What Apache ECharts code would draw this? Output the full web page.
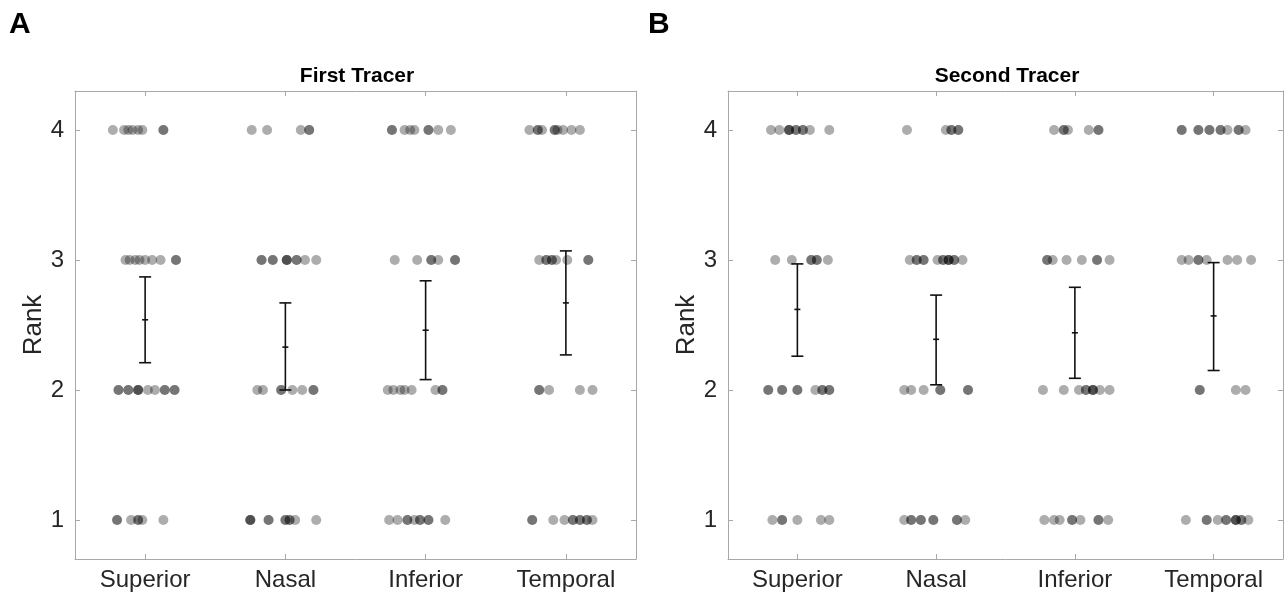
<!DOCTYPE html>
<html>
<head>
<meta charset="utf-8">
<script src="https://cdn.jsdelivr.net/npm/echarts@6/dist/echarts.min.js"></script>
<style>
  html, body { margin: 0; padding: 0; background: #fff; }
</style>
</head>
<body>
<div id="rankChart" style="width: 1285px; height: 601px;"></div>
<script>
const categories = ['Superior', 'Nasal', 'Inferior', 'Temporal']
const rankTicks = [1, 2, 3, 4]

// horizontal jitter of each dot (in category units), keyed by rank
const firstSuperior = {
  4: [-0.23, -0.15, -0.12, -0.09, -0.05, -0.02, 0.13, 0.13],
  3: [-0.14, -0.11, -0.07, -0.04, 0, 0.05, 0.11, 0.22, 0.22],
  2: [-0.19, -0.19, -0.12, -0.12, -0.05, -0.05, -0.05, 0.02, 0.07, 0.14, 0.14, 0.21, 0.21],
  1: [-0.2, -0.2, -0.1, -0.05, -0.05, -0.02, 0.13]
}
const firstNasal = {
  4: [-0.24, -0.13, 0.11, 0.17, 0.17],
  3: [-0.17, -0.17, -0.09, -0.09, 0.01, 0.01, 0.01, 0.08, 0.08, 0.14, 0.22],
  2: [-0.2, -0.16, -0.03, -0.03, 0.05, 0.12, 0.2, 0.2],
  1: [-0.25, -0.25, -0.25, -0.12, -0.12, 0, 0, 0.03, 0.03, 0.07, 0.22]
}
const firstInferior = {
  4: [-0.24, -0.24, -0.15, -0.11, -0.08, 0.02, 0.02, 0.09, 0.18],
  3: [-0.22, -0.06, 0.04, 0.04, 0.09, 0.21, 0.21],
  2: [-0.27, -0.23, -0.18, -0.15, -0.1, 0.07, 0.12, 0.12],
  1: [-0.26, -0.2, -0.13, -0.13, -0.08, -0.04, -0.04, 0.02, 0.02, 0.14]
}
const firstTemporal = {
  4: [-0.26, -0.2, -0.2, -0.17, -0.08, -0.08, -0.06, -0.02, 0.04, 0.1],
  3: [-0.19, -0.14, -0.14, -0.1, -0.1, -0.07, 0.01, 0.16, 0.16],
  2: [-0.19, -0.19, -0.12, 0.1, 0.19],
  1: [-0.24, -0.24, -0.09, -0.01, 0.05, 0.05, 0.1, 0.1, 0.15, 0.15, 0.19]
}

const secondSuperior = {
  4: [-0.19, -0.13, -0.06, -0.06, -0.06, -0.01, -0.01, 0.04, 0.04, 0.09, 0.23],
  3: [-0.16, -0.04, 0.1, 0.1, 0.14, 0.14, 0.22],
  2: [-0.21, -0.21, -0.11, -0.11, 0, 0, 0.13, 0.18, 0.18, 0.23, 0.23],
  1: [-0.18, -0.11, -0.11, 0, 0.17, 0.23]
}
const secondNasal = {
  4: [-0.21, 0.07, 0.11, 0.11, 0.16, 0.16],
  3: [-0.19, -0.14, -0.14, -0.09, -0.09, 0.01, 0.05, 0.05, 0.09, 0.09, 0.09, 0.13, 0.13, 0.19],
  2: [-0.23, -0.18, -0.09, 0.03, 0.03, 0.23, 0.23],
  1: [-0.23, -0.18, -0.18, -0.11, -0.11, -0.02, -0.02, 0.15, 0.15, 0.21]
}
const secondInferior = {
  4: [-0.15, -0.08, -0.08, -0.05, 0.1, 0.17, 0.17],
  3: [-0.2, -0.2, -0.16, -0.06, 0.05, 0.16, 0.16, 0.25],
  2: [-0.23, -0.08, 0.03, 0.08, 0.08, 0.13, 0.13, 0.13, 0.18, 0.25],
  1: [-0.22, -0.15, -0.11, -0.02, -0.02, 0.04, 0.17, 0.17, 0.24]
}
const secondTemporal = {
  4: [-0.23, -0.23, -0.11, -0.11, -0.03, -0.03, 0.05, 0.05, 0.1, 0.18, 0.18, 0.23],
  3: [-0.23, -0.18, -0.11, -0.11, -0.05, 0.1, 0.17, 0.27],
  2: [-0.1, -0.1, 0.16, 0.23],
  1: [-0.2, -0.05, -0.05, 0.03, 0.09, 0.09, 0.16, 0.16, 0.16, 0.2, 0.2, 0.25]
}

// mean and error bar ends per region
const firstMean = [2.54, 2.33, 2.46, 2.67]
const firstLow = [2.21, 2.0, 2.08, 2.27]
const firstHigh = [2.87, 2.67, 2.84, 3.07]
const secondMean = [2.62, 2.39, 2.44, 2.57]
const secondLow = [2.26, 2.04, 2.09, 2.15]
const secondHigh = [2.97, 2.73, 2.79, 2.98]

const FONT = 'Liberation Sans'
const AXIS_COLOR = '#a8a8a8'
const TEXT_COLOR = '#262626'

function dotData(regions) {
  const out = []
  regions.forEach((region, i) => {
    rankTicks.forEach(rank => {
      region[rank].forEach(off => out.push([i + 1 + off, rank]))
    })
  })
  return out
}

function barData(mean, low, high) {
  return mean.map((m, i) => [i + 1, m, low[i], high[i]])
}

function renderErrorBar(params, api) {
  const x = api.value(0)
  const mid = api.coord([x, api.value(1)])
  const lo = api.coord([x, api.value(2)])
  const hi = api.coord([x, api.value(3)])
  const cap = 6
  const style = { stroke: '#111', lineWidth: 1.6 }
  return {
    type: 'group',
    children: [
      { type: 'line', shape: { x1: lo[0], y1: lo[1], x2: hi[0], y2: hi[1] }, style },
      { type: 'line', shape: { x1: lo[0] - cap, y1: lo[1], x2: lo[0] + cap, y2: lo[1] }, style },
      { type: 'line', shape: { x1: hi[0] - cap, y1: hi[1], x2: hi[0] + cap, y2: hi[1] }, style },
      { type: 'line', shape: { x1: mid[0] - 3, y1: mid[1], x2: mid[0] + 3, y2: mid[1] }, style }
    ]
  }
}

function xAxisFor(gridIndex, position) {
  const bottom = position === 'bottom'
  return {
    type: 'value', gridIndex, position, min: 0.5, max: 4.5,
    axisLine: { show: true, onZero: false, lineStyle: { color: AXIS_COLOR } },
    axisTick: { show: true, inside: true, length: 5, customValues: [1, 2, 3, 4], lineStyle: { color: AXIS_COLOR } },
    axisLabel: {
      show: bottom, customValues: [1, 2, 3, 4], margin: 9,
      fontFamily: FONT, fontSize: 24, color: TEXT_COLOR,
      formatter: v => categories[Math.round(v) - 1]
    },
    splitLine: { show: false }
  }
}

function yAxisFor(gridIndex, position) {
  const left = position === 'left'
  return {
    type: 'value', gridIndex, position, min: 0.7, max: 4.3,
    name: left ? 'Rank' : '', nameLocation: 'middle', nameGap: 25,
    nameTextStyle: { fontFamily: FONT, fontSize: 26, color: TEXT_COLOR },
    axisLine: { show: true, onZero: false, lineStyle: { color: AXIS_COLOR } },
    axisTick: { show: true, inside: true, length: 5, customValues: rankTicks, lineStyle: { color: AXIS_COLOR } },
    axisLabel: {
      show: left, customValues: rankTicks, margin: 11,
      fontFamily: FONT, fontSize: 24, color: TEXT_COLOR
    },
    splitLine: { show: false }
  }
}

const chart = echarts.init(document.getElementById('rankChart'))
chart.setOption({
  animation: false,
  backgroundColor: '#fff',
  title: [
    { text: 'First Tracer', left: 352, top: 61, textAlign: 'center',
      textStyle: { fontFamily: FONT, fontSize: 21, fontWeight: 'bold', color: '#000' } },
    { text: 'Second Tracer', left: 1002, top: 61, textAlign: 'center',
      textStyle: { fontFamily: FONT, fontSize: 21, fontWeight: 'bold', color: '#000' } }
  ],
  graphic: [
    { type: 'text', left: 9, top: 10, style: { text: 'A', font: 'bold 30px "Liberation Sans"', fill: '#000' } },
    { type: 'text', left: 648, top: 10, style: { text: 'B', font: 'bold 30px "Liberation Sans"', fill: '#000' } }
  ],
  grid: [
    { left: 75, top: 91, width: 561, height: 468 },
    { left: 728, top: 91, width: 555, height: 468 }
  ],
  xAxis: [xAxisFor(0, 'bottom'), xAxisFor(0, 'top'), xAxisFor(1, 'bottom'), xAxisFor(1, 'top')],
  yAxis: [yAxisFor(0, 'left'), yAxisFor(0, 'right'), yAxisFor(1, 'left'), yAxisFor(1, 'right')],
  series: [
    {
      type: 'scatter', xAxisIndex: 0, yAxisIndex: 0, symbolSize: 10,
      itemStyle: { color: 'rgba(0,0,0,0.4)' },
      data: dotData([firstSuperior, firstNasal, firstInferior, firstTemporal])
    },
    {
      type: 'scatter', xAxisIndex: 2, yAxisIndex: 2, symbolSize: 10,
      itemStyle: { color: 'rgba(0,0,0,0.4)' },
      data: dotData([secondSuperior, secondNasal, secondInferior, secondTemporal])
    },
    {
      type: 'custom', xAxisIndex: 0, yAxisIndex: 0, renderItem: renderErrorBar,
      encode: { x: 0, y: [1, 2, 3] }, z: 5,
      data: barData(firstMean, firstLow, firstHigh)
    },
    {
      type: 'custom', xAxisIndex: 2, yAxisIndex: 2, renderItem: renderErrorBar,
      encode: { x: 0, y: [1, 2, 3] }, z: 5,
      data: barData(secondMean, secondLow, secondHigh)
    }
  ]
})
</script>
</body>
</html>
